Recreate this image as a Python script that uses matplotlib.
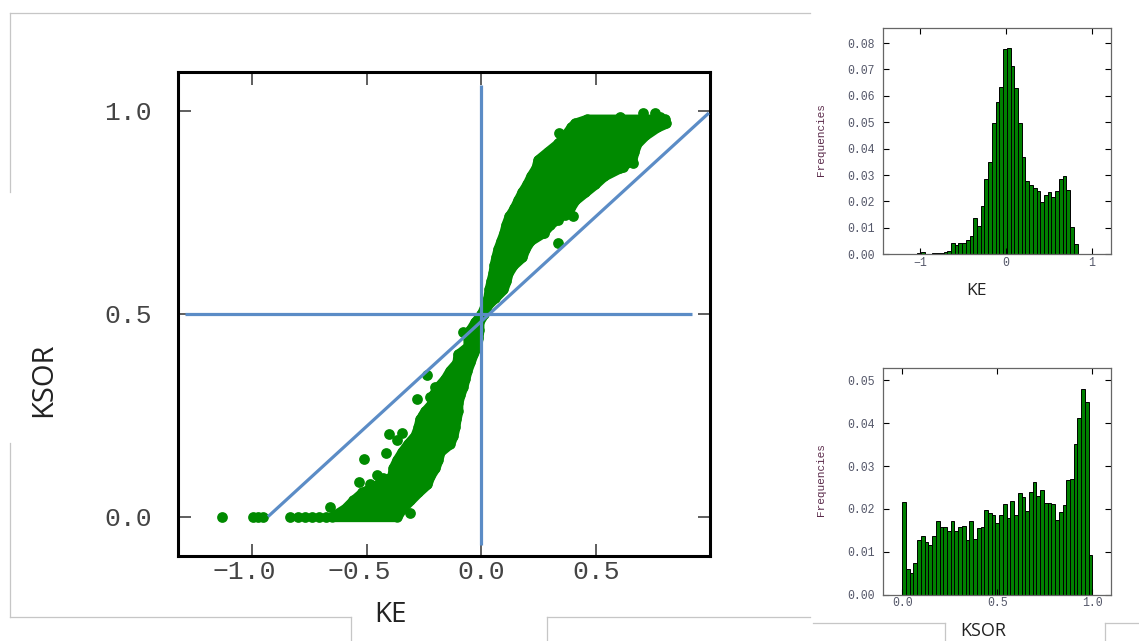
import numpy as np
import matplotlib
matplotlib.use("Agg")
import matplotlib.pyplot as plt
from matplotlib.lines import Line2D
from matplotlib.transforms import ScaledTranslation

# --- Main scatter: solid mass described by row, left and right extent
ksor_rows = [0.00, 0.02, 0.04, 0.06, 0.08, 0.10, 0.12, 0.14, 0.16, 0.18, 0.20, 0.22, 0.24, 0.26, 0.28,
             0.30, 0.32, 0.34, 0.36, 0.38, 0.40, 0.42, 0.44, 0.46, 0.48, 0.50, 0.52, 0.54, 0.56, 0.58,
             0.60, 0.62, 0.64, 0.66, 0.68, 0.70, 0.72, 0.74, 0.76, 0.78, 0.80, 0.82, 0.84, 0.86, 0.88,
             0.90, 0.92, 0.94, 0.96, 0.97, 0.98]
ke_left = [-0.653, -0.596, -0.561, -0.520, -0.450, -0.391, -0.386, -0.369, -0.347, -0.321, -0.290, -0.277,
           -0.269, -0.247, -0.216, -0.212, -0.190, -0.159, -0.138, -0.107, -0.103, -0.059, -0.059, -0.050,
           -0.028, 0.000, 0.015, 0.028, 0.033, 0.041, 0.050, 0.055, 0.063, 0.072, 0.085, 0.098, 0.107,
           0.120, 0.142, 0.159, 0.177, 0.199, 0.216, 0.238, 0.247, 0.290, 0.334, 0.365, 0.391, 0.408, 0.461]
ke_right = [-0.369, -0.347, -0.312, -0.277, -0.238, -0.225, -0.203, -0.190, -0.181, -0.138, -0.124, -0.116,
            -0.111, -0.103, -0.103, -0.094, -0.081, -0.072, -0.063, -0.050, -0.037, -0.020, -0.015, -0.011,
            -0.011, 0.010, 0.024, 0.059, 0.094, 0.107, 0.116, 0.138, 0.177, 0.190, 0.212, 0.269, 0.299,
            0.343, 0.386, 0.408, 0.452, 0.496, 0.535, 0.605, 0.657, 0.666, 0.679, 0.714, 0.766, 0.806, 0.801]
extra_ke = [-1.133, -0.998, -0.977, -0.955, -0.836, -0.80, -0.77, -0.74, -0.71, -0.68, -0.662, -0.312,
            -0.238, -0.282, -0.203, -0.225, -0.255, -0.216, -0.404, -0.347, -0.369, -0.417, -0.513, -0.456,
            -0.43, -0.535, -0.487, -0.081, 0.334, 0.365, 0.40, 0.334, 0.273, 0.66, 0.618, 0.338, 0.705, 0.757,
            0.78, 0.605]
extra_ksor = [0.0, 0.0, 0.0, 0.0, 0.0, 0.0, 0.0, 0.0, 0.0, 0.0, 0.023, 0.009,
              0.349, 0.29, 0.319, 0.295, 0.25, 0.27, 0.203, 0.206, 0.189, 0.157, 0.142, 0.102,
              0.095, 0.085, 0.08, 0.455, 0.675, 0.743, 0.741, 0.731, 0.699, 0.872, 0.862, 0.946, 0.995, 0.995,
              0.985, 0.985]

# Guide lines
vline_ke = [0.0, 0.0]
vline_ksor = [-0.07, 1.063]
hline_ke = [-1.295, 0.919]
hline_ksor = [0.5, 0.5]
diag_ke = [-0.932, 0.993]
diag_ksor = [0.0, 0.995]

# --- KE histogram
ke_bin_start = -1.03
ke_bin_width = 0.0433
ke_freq = [0.0004, 0.0008, 0, 0, 0.0004, 0.0005, 0.0005, 0.0010, 0.0014, 0.0043, 0.0035, 0.0042, 0.0043,
           0.0054, 0.0069, 0.0136, 0.0107, 0.0183, 0.0287, 0.0351, 0.0497, 0.0576, 0.0633, 0.0779, 0.0781,
           0.0715, 0.0629, 0.0497, 0.0370, 0.0277, 0.0261, 0.0253, 0.0240, 0.0197, 0.0224, 0.0235, 0.0216,
           0.0239, 0.0287, 0.0298, 0.0243, 0.0102, 0.0039]

# --- KSOR histogram
ksor_bin_start = 0.0
ksor_bin_width = 1 / 51
ksor_freq = [0.0217, 0.0059, 0.0050, 0.0075, 0.0127, 0.0136, 0.0124, 0.0117, 0.0136, 0.0172, 0.0157, 0.0157,
             0.0148, 0.0171, 0.0148, 0.0159, 0.0161, 0.0127, 0.0171, 0.0131, 0.0155, 0.0159, 0.0198, 0.0191,
             0.0187, 0.0168, 0.0187, 0.0212, 0.0180, 0.0219, 0.0187, 0.0238, 0.0228, 0.0196, 0.0239, 0.0262,
             0.0230, 0.0244, 0.0214, 0.0214, 0.0212, 0.0175, 0.0193, 0.0210, 0.0267, 0.0269, 0.0352, 0.0411,
             0.0479, 0.0450, 0.0093]

W, H = 1139, 641
fig = plt.figure(figsize=(W / 100, H / 100), dpi=100, facecolor="white")


def px_axes(l, t, r, b):
    return fig.add_axes([l / W, 1 - b / H, (r - l) / W, (b - t) / H])


def px_line(x0, y0, x1, y1):
    fig.add_artist(Line2D([x0 / W, x1 / W], [1 - y0 / H, 1 - y1 / H], color="#c6c6c6", lw=0.9))


# Grey panel outlines that surround the pasted pictures
px_line(10, 13, 810, 13)
px_line(10, 13, 10, 192)
px_line(10, 443, 10, 617)
px_line(10, 617, 351, 617)
px_line(351, 617, 351, 641)
px_line(547, 641, 547, 617)
px_line(547, 617, 810, 617)
px_line(813, 623, 945, 623)
px_line(945, 623, 945, 641)
px_line(1105, 641, 1105, 623)
px_line(1105, 623, 1139, 623)

MONO = "Liberation Mono"
SANS = "Open Sans"
GREEN = "#008a00"
BLUE = "#5b8cc6"

# Main panel
ax = px_axes(178, 72, 710, 556)
ax.fill_betweenx(ksor_rows, ke_left, ke_right, facecolor=GREEN, edgecolor=GREEN, lw=7.2,
                 joinstyle="round", zorder=2)
ax.scatter(ke_left, ksor_rows, s=56, color=GREEN, lw=0, zorder=2)
ax.scatter(ke_right, ksor_rows, s=56, color=GREEN, lw=0, zorder=2)
ax.scatter(extra_ke, extra_ksor, s=60, color=GREEN, lw=0, zorder=2)
for xs, ys in [(vline_ke, vline_ksor), (hline_ke, hline_ksor), (diag_ke, diag_ksor)]:
    ax.plot(xs, ys, color=BLUE, lw=2.3, solid_capstyle="butt", zorder=3)
ax.set_xlim(-1.325, 0.998)
ax.set_ylim(-0.097, 1.096)
ax.set_xticks([-1.0, -0.5, 0.0, 0.5])
ax.set_yticks([0.0, 0.5, 1.0])
ax.tick_params(direction="in", top=True, right=True, length=9, width=1.1, color="#333333",
               labelsize=19, labelcolor="#444444")
ax.tick_params(axis="x", pad=3)
ax.tick_params(axis="y", pad=19)
for lab in ax.get_xticklabels() + ax.get_yticklabels():
    lab.set_family(MONO)
# the negative labels sit to the left of their ticks in the reference
for lab in ax.get_xticklabels()[:2]:
    lab.set_transform(lab.get_transform() + ScaledTranslation(-8 / 100, 0, fig.dpi_scale_trans))
for s in ax.spines.values():
    s.set_linewidth(2.2)
    s.set_color("black")
fig.text(390 / W, 1 - 615 / H, "KE", family=SANS, fontsize=20, color="#222222", ha="center", va="center")
fig.text(44 / W, 1 - 380 / H, "KSOR", family=SANS, fontsize=21, color="#222222", rotation=90,
         ha="center", va="center")


def hist_panel(box, start, width, freq, xlim, ylim, xticks, xfmt, yticks, label, label_xy, label_size, freq_y):
    a = px_axes(*box)
    lefts = [start + i * width for i in range(len(freq))]
    a.bar(lefts, freq, width=width, align="edge", color="#008000", edgecolor="black", linewidth=0.7)
    a.set_xlim(*xlim)
    a.set_ylim(*ylim)
    a.set_xticks(xticks)
    a.set_xticklabels([xfmt(v) for v in xticks])
    a.set_yticks(yticks)
    a.set_yticklabels([f"{v:.2f}" for v in yticks])
    a.tick_params(direction="in", top=True, right=True, length=4, width=0.8, color="black",
                  labelsize=8.3, labelcolor="#55586a")
    a.tick_params(axis="x", pad=2)
    a.tick_params(axis="y", pad=6)
    for lab in a.get_xticklabels() + a.get_yticklabels():
        lab.set_family(MONO)
    for s in a.spines.values():
        s.set_linewidth(0.9)
        s.set_color("#666666")
    fig.text(821 / W, 1 - freq_y / H, "Frequencies", family=MONO, fontsize=8, color="#5a2a4a",
             rotation=90, ha="center", va="center")
    fig.text(label_xy[0] / W, 1 - label_xy[1] / H, label, family=SANS, fontsize=label_size, color="#222222",
             ha="center", va="center")


hist_panel((883.3, 28.3, 1111, 254.3), ke_bin_start, ke_bin_width, ke_freq, (-1.427, 1.221), (0, 0.0856),
           [-1, 0, 1], lambda v: f"{v:d}".replace("-", "\u2212"),
           [0.00, 0.01, 0.02, 0.03, 0.04, 0.05, 0.06, 0.07, 0.08], "KE", (977, 291), 12.5, 140)
hist_panel((883.3, 368.3, 1111, 594.7), ksor_bin_start, ksor_bin_width, ksor_freq, (-0.1, 1.098), (0, 0.0528),
           [0.0, 0.5, 1.0], lambda v: f"{v:.1f}",
           [0.00, 0.01, 0.02, 0.03, 0.04, 0.05], "KSOR", (983, 631), 13, 480)

fig.savefig("out.png", dpi=100)
